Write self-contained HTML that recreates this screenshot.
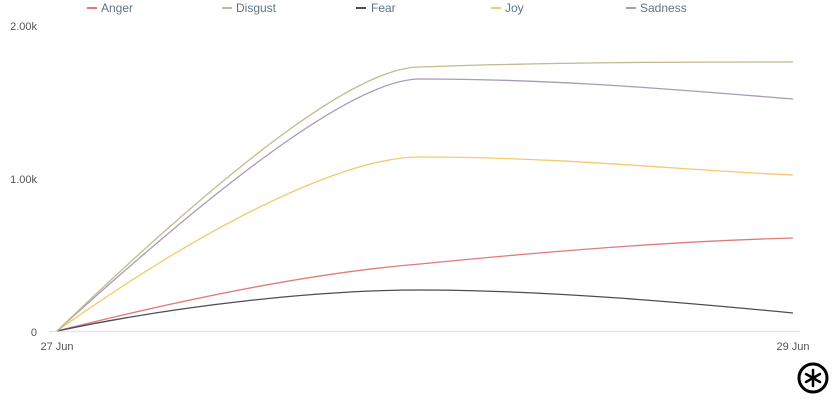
<!DOCTYPE html>
<html><head><style>
body{margin:0;background:#fff;}
svg{display:block;font-family:"Liberation Sans",sans-serif;}
</style></head><body>
<svg width="840" height="400" viewBox="0 0 840 400">
<g font-size="12" fill="#5f7482">
<line x1="87" y1="8" x2="97" y2="8" stroke="#e07b7b" stroke-width="2"/><text x="101" y="12">Anger</text>
<line x1="222" y1="8" x2="232" y2="8" stroke="#bfbb8d" stroke-width="2"/><text x="236" y="12">Disgust</text>
<line x1="356" y1="8" x2="366" y2="8" stroke="#4a4f55" stroke-width="2"/><text x="371" y="12">Fear</text>
<line x1="491" y1="8" x2="501" y2="8" stroke="#f5ca6e" stroke-width="2"/><text x="505" y="12">Joy</text>
<line x1="626" y1="8" x2="636" y2="8" stroke="#a99bb8" stroke-width="2"/><text x="640" y="12">Sadness</text>
</g>
<g font-size="11" fill="#555">
<text x="37" y="30" text-anchor="end">2.00k</text>
<text x="37" y="183" text-anchor="end">1.00k</text>
<text x="37" y="336" text-anchor="end">0</text>
<text x="57" y="350" text-anchor="middle">27 Jun</text>
<text x="793" y="350" text-anchor="middle">29 Jun</text>
</g>
<line x1="49" y1="331.5" x2="800" y2="331.5" stroke="#dfe7ee" stroke-width="1.5"/>
<g fill="none" stroke-width="1.3">
<path d="M57,331 C200,295 320,272 420,264 C540,252 680,241 793,238" stroke="#e07b7b"/>
<path d="M57,331 C180,305 320,290 420,290 C540,290 680,302 793,313" stroke="#4a4f55"/>
<path d="M57,331 C220,215 350,157 420,157 C560,157 680,170 793,175" stroke="#f5ca6e"/>
<path d="M57,331 C240,165 360,79 420,79 C560,79 680,90 793,99" stroke="#a99bb8"/>
<path d="M57,331 C240,155 360,67 420,67 C560,62 680,62 793,62" stroke="#bfbb8d"/>
</g>
<g transform="translate(813,378)">
<circle r="14" fill="none" stroke="#000" stroke-width="3"/>
<g stroke="#000" stroke-width="2.5" stroke-linecap="round">
<line x1="0" y1="-8" x2="0" y2="8"/><line x1="-7" y1="-4" x2="7" y2="4"/><line x1="-7" y1="4" x2="7" y2="-4"/>
</g></g>
</svg>
</body></html>
